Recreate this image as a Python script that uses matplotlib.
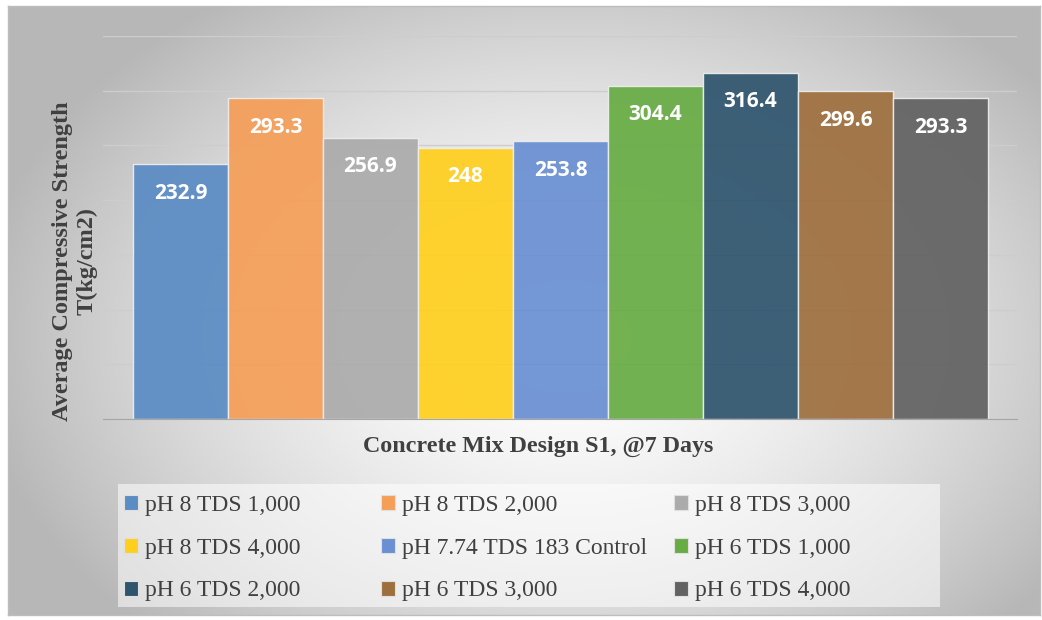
import numpy as np
import matplotlib
matplotlib.use("Agg")
import matplotlib.pyplot as plt
from matplotlib.patches import Rectangle, Patch

# ---- data ----
series = ["pH 8 TDS 1,000", "pH 8 TDS 2,000", "pH 8 TDS 3,000",
          "pH 8 TDS 4,000", "pH 7.74 TDS 183 Control", "pH 6 TDS 1,000",
          "pH 6 TDS 2,000", "pH 6 TDS 3,000", "pH 6 TDS 4,000"]
values = [232.9, 293.3, 256.9, 248, 253.8, 304.4, 316.4, 299.6, 293.3]
value_labels = ["232.9", "293.3", "256.9", "248", "253.8", "304.4", "316.4", "299.6", "293.3"]
colors = ["#5b8cc4", "#f59e58", "#ababab", "#ffcf1e", "#6a8fd3",
          "#68ac44", "#2f556e", "#9e6f3e", "#626262"]
xlabel = "Concrete Mix Design S1, @7 Days"
ylabel = "Average Compressive Strength\nT(kg/cm2)"

W, H = 1042, 620
fig = plt.figure(figsize=(W / 100, H / 100), dpi=100)

# ---- gradient background ----
bg = fig.add_axes([8 / W, 5 / H, 1032 / W, 609 / H])
yy, xx = np.mgrid[0:609, 0:1032]
cx, cy, rx, ry = 560, 330, 620, 430
d = np.sqrt(((xx - cx) / rx) ** 2 + ((yy - cy) / ry) ** 2)
g = np.clip(1.0 - 0.30 * d ** 1.6, 0.72, 1.0)
bg.imshow(np.dstack([g, g, g]), aspect="auto", extent=[0, 1, 0, 1], origin="upper")
bg.set_xlim(0, 1)
bg.set_ylim(0, 1)
bg.set_xticks([])
bg.set_yticks([])
for s in bg.spines.values():
    s.set_color("#bdbdbd")
    s.set_linewidth(1)
bg.set_zorder(0)

# ---- main axes ----
ax = fig.add_axes([103 / W, (H - 419) / H, 914 / W, (419 - 36) / H])
ax.set_zorder(1)
ax.patch.set_visible(False)
x = np.arange(len(values))
ax.set_axisbelow(True)
ax.yaxis.grid(True, color="#cdcdcd", linewidth=1)
ax.set_ylim(0, 350)
ax.set_yticks(np.arange(0, 351, 50))
ax.set_yticklabels([])
ax.tick_params(left=False, bottom=False, labelbottom=False)
ax.set_xlim(-0.5 - 30 / 95, len(values) - 0.5 + 29 / 95)
for s in ["top", "right", "left"]:
    ax.spines[s].set_visible(False)
ax.spines["bottom"].set_color("#a6a6a6")

bars = ax.bar(x, values, width=1.0, color=colors, alpha=0.93,
              edgecolor="#eeeeee", linewidth=1)
for xi, v, lab in zip(x, values, value_labels):
    ax.annotate(lab, (xi, v), xytext=(0, -29), textcoords="offset pixels",
                ha="center", va="center", color="white", fontsize=15,
                fontweight="bold", family="Open Sans")

# ---- axis titles ----
fig.text(538 / W, (H - 446) / H, xlabel, ha="center", va="center",
         family="Liberation Serif", fontweight="bold", fontsize=17.3, color="#404040")
fig.text(75 / W, (H - 261) / H, ylabel, ha="center", va="center", rotation=90,
         family="Liberation Serif", fontweight="bold", fontsize=17.5, color="#404040",
         linespacing=1.22)

# ---- legend ----
fig.patches.append(Rectangle((118 / W, (H - 607) / H), 822 / W, 123 / H,
                             transform=fig.transFigure, facecolor="white",
                             alpha=0.55, edgecolor="none", zorder=1))
col_x = [124, 381, 674]
for c in range(3):
    idx = [c, c + 3, c + 6]
    handles = [Patch(facecolor=colors[i], edgecolor="#e0e0e0", linewidth=0.8) for i in idx]
    leg = fig.legend(handles, [series[i] for i in idx], loc="upper left",
                     bbox_to_anchor=(col_x[c] / W, (H - 495) / H),
                     frameon=False, handlelength=0.6, handleheight=0.6,
                     handletextpad=0.3, labelspacing=0.92, borderpad=0,
                     borderaxespad=0,
                     prop={"family": "Liberation Serif", "size": 17})
    for t in leg.get_texts():
        t.set_color("#404040")

fig.savefig("out.png", dpi=100)
